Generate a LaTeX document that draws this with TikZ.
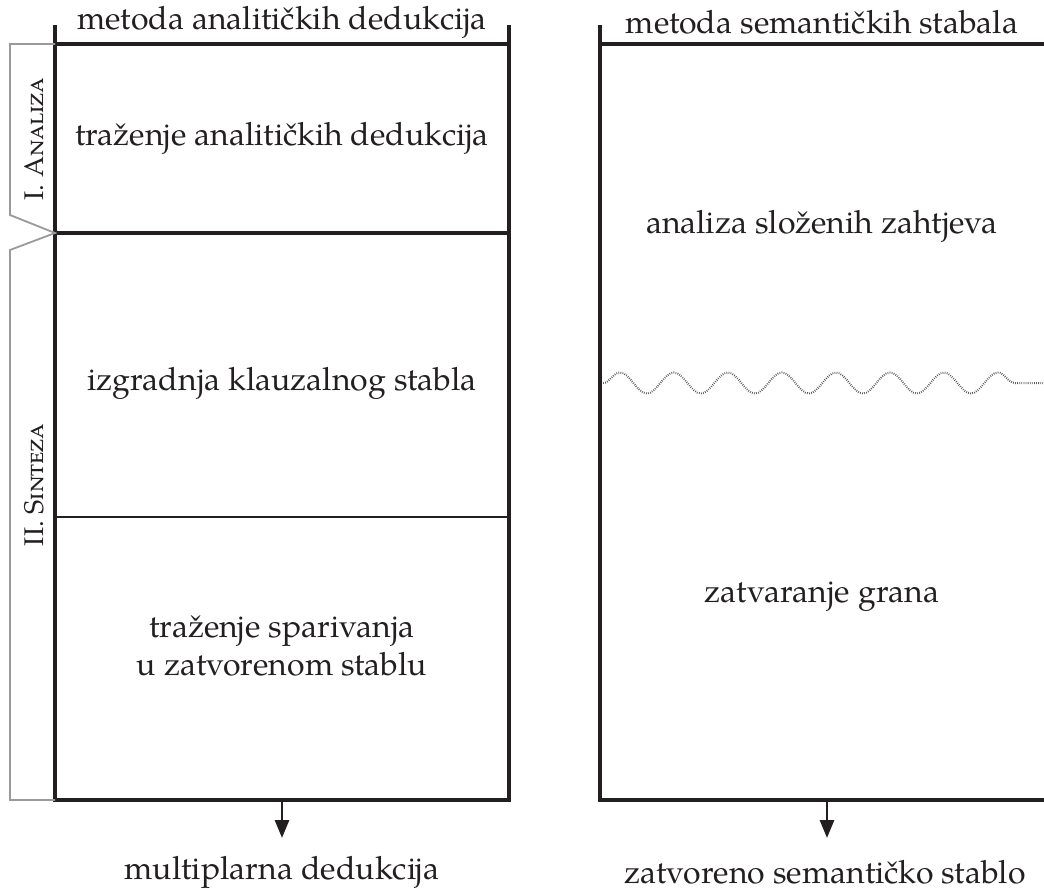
\documentclass[tikz,border=0pt]{standalone}
\usepackage{fontspec}
\setmainfont{TeX Gyre Pagella}
\usetikzlibrary{arrows.meta,decorations.pathmorphing}
\definecolor{ink}{HTML}{231F20}
\definecolor{brace}{HTML}{9A9A9A}
\definecolor{wavegray}{HTML}{5E5E5E}
\begin{document}
\begin{tikzpicture}[x=1pt,y=-1pt,
  frame/.style={draw=ink,line width=3.5pt},
  thinrule/.style={draw=ink,line width=2.3pt},
  phase/.style={draw=brace,line width=1.8pt,line join=miter},
  txt/.style={font=\fontsize{32}{38}\selectfont,text=ink,align=center,inner sep=0pt},
  phasetxt/.style={font=\fontsize{27}{30}\selectfont,text=ink,rotate=90,inner sep=0pt},
  result/.style={draw=ink,line width=2.8pt,-{Triangle[width=14pt,length=18pt]}},
  wave/.style={draw=wavegray,line width=2pt,dash pattern=on 0.8pt off 1.3pt,
    decorate,decoration={snake,segment length=54pt,amplitude=10.5pt,post length=16pt}}]
\useasboundingbox (0,0) rectangle (1044,893);

% left column frame
\coordinate (Ltop) at (55,25);
\coordinate (Lbot) at (55,800);
\coordinate (Rtop) at (509,25);
\coordinate (Rbot) at (509,800);
\draw[frame] (Ltop) -- (Lbot) -- (Rbot) -- (Rtop);
\draw[frame] (55,44) -- (509,44);
\draw[frame] (55,233) -- (509,233);
\draw[thinrule] (55,517) -- (509,517);

% right column frame
\coordinate (Stop) at (600,25);
\coordinate (Sbot) at (600,800);
\draw[frame] (Stop) -- (Sbot) -- (1046,800);
\draw[frame] (600,44) -- (1046,44);
\draw[wave] (603,383) -- (1044,383);

% column titles
\node[txt] (ttlA) at (282,22) {metoda analitičkih dedukcija};
\node[txt] (ttlS) at (822,22) {metoda semantičkih stabala};

% stages of analytic deduction
\node[txt] (a1) at (282,138) {traženje analitičkih dedukcija};
\node[txt] (a2) at (282,383) {izgradnja klauzalnog stabla};
\node[txt] (a3) at (282,646) {traženje sparivanja\\u zatvorenom stablu};

% stages of semantic trees
\node[txt] (s1) at (822,226) {analiza složenih zahtjeva};
\node[txt] (s2) at (822,597) {zatvaranje grana};

% phase brackets
\draw[phase] (55,44) -- (10,44) -- (10,215) -- (55,233) -- (10,250) -- (10,800) -- (55,800);
\node[phasetxt] (p1) at (34,139) {\textsc{I. Analiza}};
\node[phasetxt] (p2) at (34,485) {\textsc{II. Sinteza}};

% outputs
\node[txt] (outA) at (282,872) {multiplarna dedukcija};
\node[txt] (outS) at (825,872) {zatvoreno semantičko stablo};
\coordinate (arA) at (282,801);
\coordinate (arS) at (827,801);
\draw[result] (arA) -- (arA |- 0,838);
\draw[result] (arS) -- (arS |- 0,838);
\end{tikzpicture}
\end{document}
